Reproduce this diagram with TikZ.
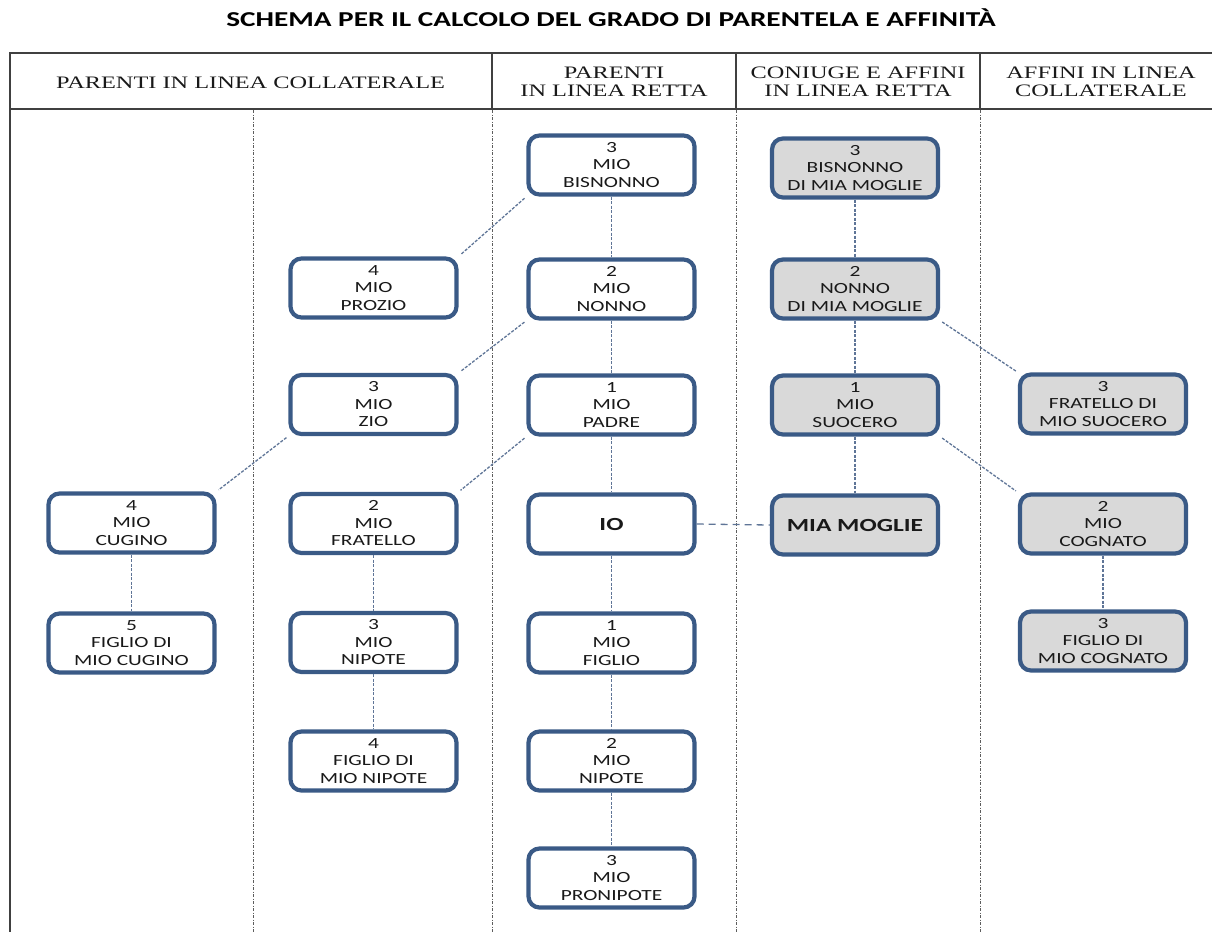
\documentclass[tikz,border=0pt]{standalone}
\usepackage{fontspec}
\newfontfamily\boxfont{Carlito}[FakeStretch=1.38]
\newfontfamily\headfont{Liberation Serif}[FakeStretch=1.39]
\definecolor{boxblue}{HTML}{3A5A86}
\definecolor{boxgray}{HTML}{D9D9D9}
\definecolor{linkblue}{HTML}{5F7597}
\definecolor{rulegray}{HTML}{404040}
\tikzset{
      relbox/.style={
        rounded corners=11pt,
        draw=boxblue,
        line width=4.2pt,
        fill=white,
        minimum width=166pt,
        minimum height=59pt,
        align=center,
        inner sep=2pt,
        text=black!90,
        font=\boxfont\fontsize{15.5}{17.5}\selectfont
      },
      affbox/.style={relbox, fill=boxgray},
      bigbox/.style={font=\boxfont\bfseries\fontsize{18.5}{20}\selectfont},
      link/.style={draw=linkblue, line width=1.3pt, dash pattern=on 3pt off 1.5pt},
      diaglink/.style={link, shorten <=2.5pt, shorten >=2.5pt},
      tablerule/.style={draw=rulegray, line width=1.4pt},
      colrule/.style={draw=rulegray!85, line width=1pt, dash pattern=on 3pt off 1.5pt on 1pt off 1.5pt},
      headtext/.style={align=center, inner sep=0pt, anchor=base, text=black!90,
        font=\headfont\fontsize{17.5}{17.5}\selectfont}
    }

\begin{document}
\begin{tikzpicture}[x=1pt,y=-1pt]
    \useasboundingbox (0,0) rectangle (1212,932);
    % title
    \node[anchor=base, inner sep=0pt, font=\boxfont\bfseries\fontsize{21.2}{23}\selectfont] (title) at (611,26) {SCHEMA PER IL CALCOLO DEL GRADO DI PARENTELA E AFFINIT\`A};
    % table
    \draw[tablerule] (1212,53) -- (10,53) -- (10,932);
    \draw[tablerule] (10,109) -- (1212,109);
    \draw[tablerule] (492,53) -- (492,109);
    \draw[tablerule] (736,53) -- (736,109);
    \draw[tablerule] (980,53) -- (980,109);
    \draw[colrule] (253,110) -- (253,932);
    \draw[colrule] (492,110) -- (492,932);
    \draw[colrule] (736,110) -- (736,932);
    \draw[colrule] (980,110) -- (980,932);
    \node[headtext] (h0) at (250.5,88) {PARENTI IN LINEA COLLATERALE};
    \node[headtext] (h1) at (614,96) {PARENTI\\IN LINEA RETTA};
    \node[headtext] (h2) at (858,96) {CONIUGE E AFFINI\\IN LINEA RETTA};
    \node[headtext] (h3) at (1101,96) {AFFINI IN LINEA\\COLLATERALE};
    % parenti in linea retta
    \node[relbox] (bisnonno) at (611.5,165) {3\\MIO\\BISNONNO};
    \node[relbox] (nonno) at (611.5,289) {2\\MIO\\NONNO};
    \node[relbox] (padre) at (611.5,405) {1\\MIO\\PADRE};
    \node[relbox, bigbox] (io) at (611.5,524) {IO};
    \node[relbox] (figlio) at (611.5,643) {1\\MIO\\FIGLIO};
    \node[relbox] (nipoteR) at (611.5,761) {2\\MIO\\NIPOTE};
    \node[relbox] (pronipote) at (611.5,878) {3\\MIO\\PRONIPOTE};
    % parenti in linea collaterale
    \node[relbox] (prozio) at (373.5,288) {4\\MIO\\PROZIO};
    \node[relbox] (zio) at (373.5,404.5) {3\\MIO\\ZIO};
    \node[relbox] (fratello) at (373.5,523.5) {2\\MIO\\FRATELLO};
    \node[relbox] (nipoteC) at (373.5,642.5) {3\\MIO\\NIPOTE};
    \node[relbox] (fnipote) at (373.5,761) {4\\FIGLIO DI\\MIO NIPOTE};
    \node[relbox] (cugino) at (131.5,523) {4\\MIO\\CUGINO};
    \node[relbox] (fcugino) at (131.5,643) {5\\FIGLIO DI\\MIO CUGINO};
    % coniuge e affini
    \node[affbox] (bisnonnoM) at (855,168) {3\\BISNONNO\\DI MIA MOGLIE};
    \node[affbox] (nonnoM) at (855,289) {2\\NONNO\\DI MIA MOGLIE};
    \node[affbox] (suocero) at (855,405) {1\\MIO\\SUOCERO};
    \node[affbox, bigbox] (moglie) at (855,525) {MIA MOGLIE};
    \node[affbox] (fsuocero) at (1103,404) {3\\FRATELLO DI\\MIO SUOCERO};
    \node[affbox] (cognato) at (1103,524) {2\\MIO\\COGNATO};
    \node[affbox] (fcognato) at (1103,641) {3\\FIGLIO DI\\MIO COGNATO};
    % links
    \draw[link] (bisnonno.south) -- (nonno.north);
    \draw[link] (nonno.south) -- (padre.north);
    \draw[link] (padre.south) -- (io.north);
    \draw[link] (io.south) -- (figlio.north);
    \draw[link] (figlio.south) -- (nipoteR.north);
    \draw[link] (nipoteR.south) -- (pronipote.north);
    \draw[diaglink] (bisnonno.south west) -- (prozio.north east);
    \draw[diaglink] (nonno.south west) -- (zio.north east);
    \draw[diaglink] (padre.south west) -- (fratello.north east);
    \draw[diaglink] (zio.south west) -- (cugino.north east);
    \draw[link] (cugino.south) -- (fcugino.north);
    \draw[link] (fratello.south) -- (nipoteC.north);
    \draw[link] (nipoteC.south) -- (fnipote.north);
    \draw[link, dash pattern=on 7pt off 5pt] (io.east) -- (moglie.west);
    \draw[link] (bisnonnoM.south) -- (nonnoM.north);
    \draw[link] (nonnoM.south) -- (suocero.north);
    \draw[link] (suocero.south) -- (moglie.north);
    \draw[diaglink] (nonnoM.south east) -- (fsuocero.north west);
    \draw[diaglink] (suocero.south east) -- (cognato.north west);
    \draw[link] (cognato.south) -- (fcognato.north);
\end{tikzpicture}
\end{document}
